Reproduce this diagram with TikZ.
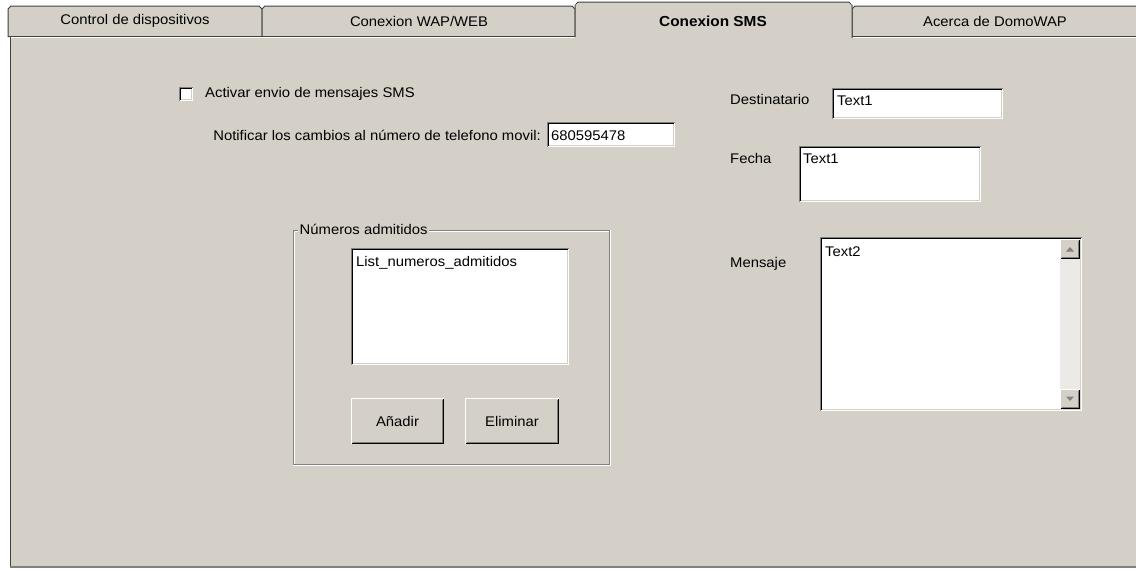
\documentclass[tikz,border=0pt]{standalone}
\usepackage{fontspec}
\setmainfont[FakeStretch=1.06]{Liberation Sans}
\definecolor{face}{HTML}{D4D0C8}
\definecolor{shadow}{HTML}{808080}
\definecolor{darkline}{HTML}{404040}
\definecolor{track}{HTML}{ECEAE6}
\tikzset{
  lbl/.style={inner sep=0pt, font=\fontsize{14}{16}\selectfont, text=black},
  tablbl/.style={lbl},
  tabsel/.style={lbl, font=\fontsize{14.5}{16}\selectfont\bfseries},
  tabshape/.style={fill=face, draw=darkline, line width=1pt},
}
% sunken field: x1,y1,x2,y2
\newcommand\mysunken[4]{%
  \fill[white] (#1,#2) rectangle (#3,#4);
  \draw[shadow,line width=1pt] (#1+0.5,#4-0.5) -- (#1+0.5,#2+0.5) -- (#3-0.5,#2+0.5);
  \draw[black,line width=1pt] (#1+1.5,#4-1.5) -- (#1+1.5,#2+1.5) -- (#3-1.5,#2+1.5);
  \draw[white,line width=1pt] (#1+0.5,#4-0.5) -- (#3-0.5,#4-0.5) -- (#3-0.5,#2+0.5);
  \draw[face,line width=1pt] (#1+1.5,#4-1.5) -- (#3-1.5,#4-1.5) -- (#3-1.5,#2+1.5);
}
% raised button: x1,y1,x2,y2
\newcommand\myraised[4]{%
  \fill[face] (#1,#2) rectangle (#3,#4);
  \draw[white,line width=1pt] (#1+0.5,#4-0.5) -- (#1+0.5,#2+0.5) -- (#3-0.5,#2+0.5);
  \draw[black,line width=1pt] (#1+0.5,#4-0.5) -- (#3-0.5,#4-0.5) -- (#3-0.5,#2+0.5);
  \draw[shadow,line width=1pt] (#1+1.5,#4-1.5) -- (#3-1.5,#4-1.5) -- (#3-1.5,#2+1.5);
}
\begin{document}
\begin{tikzpicture}[x=1pt,y=-1pt]
\useasboundingbox (0,0) rectangle (1136,573);
\fill[white] (0,0) rectangle (1136,573);
% panel
\fill[face] (10,37) rectangle (1136,567);
\draw[darkline,line width=1pt] (10.5,37) -- (10.5,567);
\draw[shadow,line width=2pt] (10,567) -- (1136,567);
% unselected tabs
\draw[tabshape] (8,37) -- (8,9) -- (11,6) -- (259,6) -- (262,9) -- (262,37);
\draw[tabshape] (262,37) -- (262,9) -- (265,6) -- (572,6) -- (575,9) -- (575,37);
\draw[tabshape] (852,37) -- (852,9) -- (855,6) -- (1140,6) -- (1140,37);
% panel top line
\draw[darkline,line width=1pt] (8,36.5) -- (1136,36.5);
\draw[white,line width=1pt] (11,37.8) -- (1136,37.8);
% selected tab
\fill[face] (575,38.5) -- (575,5) -- (578,2) -- (849,2) -- (852,5) -- (852,38.5) -- cycle;
\draw[darkline,line width=1pt] (575,37) -- (575,5) -- (578,2) -- (849,2) -- (852,5) -- (852,38);
% tab notches
\foreach \xx in {262,575,852} {\fill[white] (\xx-3,0) -- (\xx+3,0) -- (\xx,5) -- cycle;}
\node[tablbl] (t1) at (135,21) {Control de dispositivos};
\node[tablbl] (t2) at (419,21) {Conexion WAP/WEB};
\node[tabsel] (t3) at (713,21) {Conexion SMS};
\node[tablbl] (t4) at (995,21) {Acerca de DomoWAP};
% checkbox
\mysunken{179}{87}{193}{101}
\node[lbl, anchor=west] (chk) at (205,94) {Activar envio de mensajes SMS};
% phone number
\node[lbl, anchor=east] (notif) at (541,135) {Notificar los cambios al número de telefono movil:};
\mysunken{547}{122}{675}{147}
\node[lbl, anchor=west] (phone) at (551,136) {680595478};
% right side fields
\node[lbl, anchor=west] (dest) at (730,99) {Destinatario};
\mysunken{832}{88}{1003}{119}
\node[lbl, anchor=west] (destv) at (837,101) {Text1};
\node[lbl, anchor=west] (fecha) at (730,158) {Fecha};
\mysunken{799}{146}{981}{202}
\node[lbl, anchor=west] (fechav) at (803,159) {Text1};
\node[lbl, anchor=west] (mens) at (730,264) {Mensaje};
\mysunken{820}{237}{1082}{411}
\node[lbl, anchor=west] (mensv) at (825,252) {Text2};
% scrollbar
\fill[track] (1060,239) rectangle (1080,409);
\myraised{1060}{239}{1080}{259}
\myraised{1060}{389}{1080}{409}
\fill[shadow] (1066,251.5) -- (1074,251.5) -- (1070,247) -- cycle;
\fill[shadow] (1066,396.5) -- (1074,396.5) -- (1070,401) -- cycle;
% group frame
\draw[shadow,line width=1pt] (293.5,230.5) rectangle (609.5,464.5);
\draw[white,line width=1pt] (294.5,231.5) -- (294.5,463.5);
\draw[white,line width=1pt] (294.5,231.5) -- (608.5,231.5);
\draw[white,line width=1pt] (293,465.5) -- (610.5,465.5) -- (610.5,230);
\node[lbl, fill=face, inner xsep=1.5pt, inner ysep=1pt, anchor=west] (grp) at (298,229) {Números admitidos};
% listbox
\mysunken{351}{248}{569}{365}
\node[lbl, anchor=west] (listv) at (356,263) {List\_numeros\_admitidos};
% buttons
\myraised{351}{398}{444}{444}
\node[lbl] (add) at (397.5,421) {Añadir};
\myraised{465}{398}{559}{444}
\node[lbl] (del) at (512,421) {Eliminar};
\end{tikzpicture}
\end{document}
